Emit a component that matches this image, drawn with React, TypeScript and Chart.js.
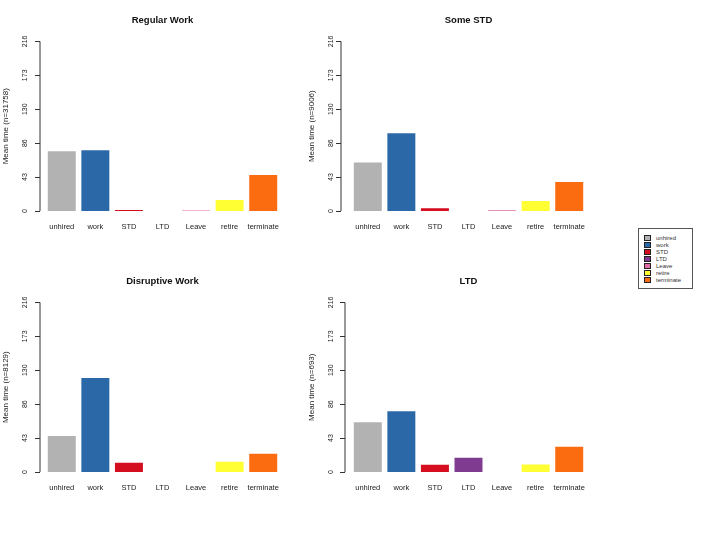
import React, { useEffect, useRef } from "react";
import { Chart, registerables } from "chart.js";

Chart.register(...registerables);

const categories = ["unhired", "work", "STD", "LTD", "Leave", "retire", "terminate"];
const regularWork = [76.2, 77.5, 1.3, 0, 0.5, 14, 45.7];
const someStd = [61.9, 99, 3.4, 0, 1, 12.7, 36.8];
const disruptiveWork = [46, 119.6, 11.8, 0, 0, 13, 23.2];
const ltd = [63.4, 77.4, 9.3, 18.2, 0, 9.7, 32.1];
const yTickValues = [0, 43.2, 86.4, 129.6, 172.8, 216];
const yTickLabels = ["0", "43", "86", "130", "173", "216"];
const barColors = ["#b2b2b2", "#2b68a8", "#d40d1f", "#7e3b8f", "#dd6ea5", "#ffff33", "#fb6c10"];

const FONT = "'Liberation Sans', Arial, sans-serif";

// draws the R-style y axis: offset line, outward ticks, rotated labels
const rAxisPlugin = {
  id: "rAxis",
  afterDraw(chart: any, _args: any, opts: any) {
    const { ctx, chartArea, scales } = chart;
    const y = scales.y;
    const x0 = chartArea.left - opts.gap;
    ctx.save();
    ctx.strokeStyle = "#333";
    ctx.lineWidth = 1;
    ctx.beginPath();
    ctx.moveTo(x0, y.getPixelForValue(yTickValues[0]));
    ctx.lineTo(x0, y.getPixelForValue(yTickValues[yTickValues.length - 1]));
    yTickValues.forEach((v) => {
      const py = Math.round(y.getPixelForValue(v)) + 0.5;
      ctx.moveTo(x0 - 5, py);
      ctx.lineTo(x0, py);
    });
    ctx.stroke();

    ctx.fillStyle = "#222";
    ctx.textAlign = "center";
    ctx.textBaseline = "middle";
    ctx.font = `7px ${FONT}`;
    yTickValues.forEach((v, i) => {
      ctx.save();
      ctx.translate(chartArea.left - 20, y.getPixelForValue(v));
      ctx.rotate(-Math.PI / 2);
      ctx.fillText(yTickLabels[i], 0, 0);
      ctx.restore();
    });

    ctx.font = `8px ${FONT}`;
    ctx.translate(chartArea.left - 39, (chartArea.top + chartArea.bottom) / 2);
    ctx.rotate(-Math.PI / 2);
    ctx.fillText(opts.yTitle, 0, 0);
    ctx.restore();
  },
};

interface PanelProps {
  title: string;
  yTitle: string;
  values: number[];
  gap: number;
  left: number;
  top: number;
}

function Panel({ title, yTitle, values, gap, left, top }: PanelProps) {
  const canvasRef = useRef<HTMLCanvasElement | null>(null);

  useEffect(() => {
    if (!canvasRef.current) return;
    const chart = new Chart(canvasRef.current, {
      type: "bar",
      data: {
        labels: categories,
        datasets: [
          {
            data: values,
            backgroundColor: barColors,
            borderWidth: 0,
            categoryPercentage: 1,
            barPercentage: 1 / 1.2,
          },
        ],
      },
      options: {
        responsive: false,
        animation: false,
        layout: { padding: { left: 45, right: 20, top: 0, bottom: 20 } },
        scales: {
          x: {
            grid: { display: false, drawTicks: false },
            border: { display: false },
            ticks: {
              padding: 11,
              color: "#222",
              font: { family: FONT, size: 7.5 },
              maxRotation: 0,
              autoSkip: false,
            },
          },
          y: { display: false, min: 0, max: 216 },
        },
        plugins: {
          legend: { display: false },
          tooltip: { enabled: false },
          title: {
            display: true,
            text: title,
            color: "#111",
            font: { family: FONT, size: 9.5, weight: "bold" },
            padding: { top: 15, bottom: 15 },
          },
          rAxis: { gap, yTitle },
        } as any,
      },
      plugins: [rAxisPlugin],
    });
    return () => chart.destroy();
  }, [title, yTitle, values, gap]);

  return (
    <canvas
      ref={canvasRef}
      width={300}
      height={262}
      style={{ position: "absolute", left, top, width: 300, height: 262 }}
    />
  );
}

function Legend() {
  return (
    <div
      style={{
        position: "absolute",
        left: 638,
        top: 228,
        width: 55,
        height: 61,
        border: "1px solid #555",
        background: "#fff",
        fontFamily: FONT,
        fontSize: 6,
        color: "#333",
        boxSizing: "border-box",
        paddingTop: 5,
      }}
    >
      {categories.map((c, i) => (
        <div key={c} style={{ display: "flex", alignItems: "center", height: 7, paddingLeft: 5 }}>
          <span
            style={{
              display: "inline-block",
              width: 5,
              height: 4,
              background: barColors[i],
              border: "1px solid #222",
              marginRight: 5,
            }}
          />
          <span style={{ lineHeight: "6px" }}>{c}</span>
        </div>
      ))}
    </div>
  );
}

export default function App() {
  return (
    <div style={{ position: "absolute", left: 0, top: 0, width: 720, height: 540, background: "#fff" }}>
      <Panel title="Regular Work" yTitle="Mean time (n=31758)" values={regularWork} gap={5} left={0} top={0} />
      <Panel title="Some STD" yTitle="Mean time (n=9006)" values={someStd} gap={10} left={306} top={0} />
      <Panel title="Disruptive Work" yTitle="Mean time (n=8129)" values={disruptiveWork} gap={5} left={0} top={261} />
      <Panel title="LTD" yTitle="Mean time (n=693)" values={ltd} gap={6} left={306} top={261} />
      <Legend />
    </div>
  );
}
